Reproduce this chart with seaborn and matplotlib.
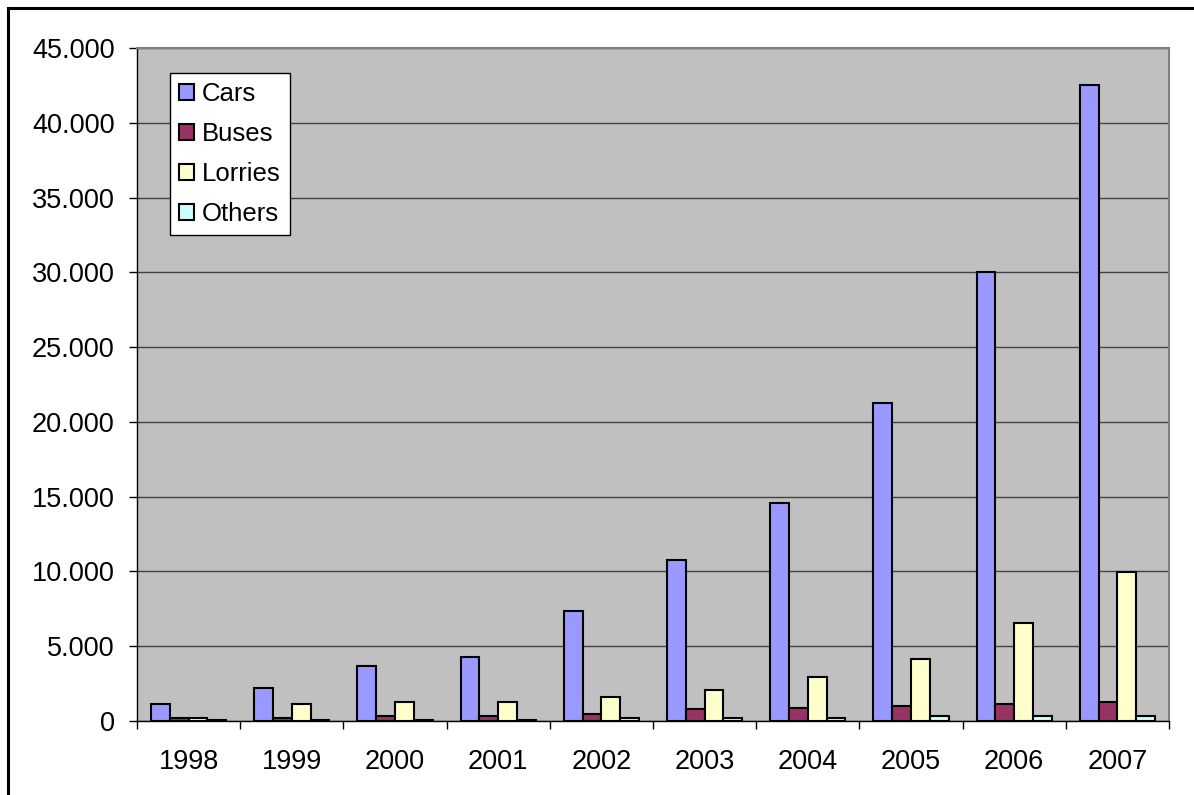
import pandas as pd
import matplotlib.pyplot as plt
import seaborn as sns
from matplotlib.patches import Rectangle
from matplotlib.ticker import FuncFormatter, FixedLocator

years = ['1998', '1999', '2000', '2001', '2002', '2003', '2004', '2005', '2006', '2007']
cars = [1140, 2190, 3700, 4280, 7350, 10770, 14570, 21260, 30000, 42500]
buses = [220, 220, 350, 340, 470, 780, 890, 1020, 1140, 1250]
lorries = [220, 1140, 1250, 1250, 1580, 2070, 2960, 4120, 6530, 9960]
others = [100, 100, 100, 100, 220, 220, 220, 330, 330, 330]
series = ['Cars', 'Buses', 'Lorries', 'Others']
colors = ['#9999FF', '#993366', '#FFFFCC', '#CCFFFF']

df = pd.DataFrame({'year': years, 'Cars': cars, 'Buses': buses,
                   'Lorries': lorries, 'Others': others})
df = df.melt(id_vars='year', var_name='type', value_name='value')

sns.set_style('white')
plt.rcParams['font.family'] = ['Liberation Sans', 'DejaVu Sans']
plt.rcParams['text.color'] = 'black'
plt.rcParams['xtick.color'] = 'black'
plt.rcParams['ytick.color'] = 'black'

fig = plt.figure(figsize=(11.94, 7.95), dpi=100)
ax = fig.add_axes([137/1194, 1 - 721/795, (1169 - 137)/1194, (721 - 48)/795])
ax.set_facecolor('#C0C0C0')

sns.barplot(data=df, x='year', y='value', hue='type', hue_order=series,
            palette=colors, width=0.727, gap=0, edgecolor='black',
            linewidth=1.5, saturation=1, ax=ax, zorder=3)

ax.set_ylim(0, 45000)
ax.set_xlim(-0.5, 9.5)
ax.set_yticks(range(0, 45001, 5000))
ax.yaxis.set_major_formatter(FuncFormatter(lambda v, p: f'{int(v):,}'.replace(',', '.')))
ax.yaxis.grid(True, color='#404040', linewidth=1, zorder=0)
ax.set_axisbelow(True)
ax.set_xlabel('')
ax.set_ylabel('')

# ticks at the category boundaries, labels centred
ax.xaxis.set_minor_locator(FixedLocator([i - 0.5 for i in range(11)]))
ax.tick_params(axis='x', which='major', length=0, pad=20, labelsize=19.5)
ax.tick_params(axis='x', which='minor', length=6, width=1, color='black', direction='out', bottom=True)
ax.tick_params(axis='y', length=6, width=1, color='black', direction='out', pad=10, labelsize=19.5, left=True)

for side in ['top', 'right']:
    ax.spines[side].set_color('#808080')
    ax.spines[side].set_linewidth(1.5)
for side in ['left', 'bottom']:
    ax.spines[side].set_color('black')
    ax.spines[side].set_linewidth(1)

handles, labels = ax.get_legend_handles_labels()
leg = ax.legend(handles, labels, loc='upper left',
                bbox_to_anchor=(33/1032, 1 - 25/673), frameon=True, fancybox=False,
                edgecolor='black', fontsize=18.5, handlelength=0.6, handleheight=0.6,
                handletextpad=0.3, labelspacing=0.62, borderpad=0.35, borderaxespad=0)
leg.get_frame().set_linewidth(1)
leg.get_frame().set_facecolor('white')
leg.get_frame().set_alpha(1)

# outer chart border
fig.patches.append(Rectangle((8/1194, -0.1), 1.2, 1.1 - 8/795, transform=fig.transFigure,
                             fill=False, edgecolor='black', linewidth=2.2))

plt.savefig('out.png', dpi=100)
plt.close()
